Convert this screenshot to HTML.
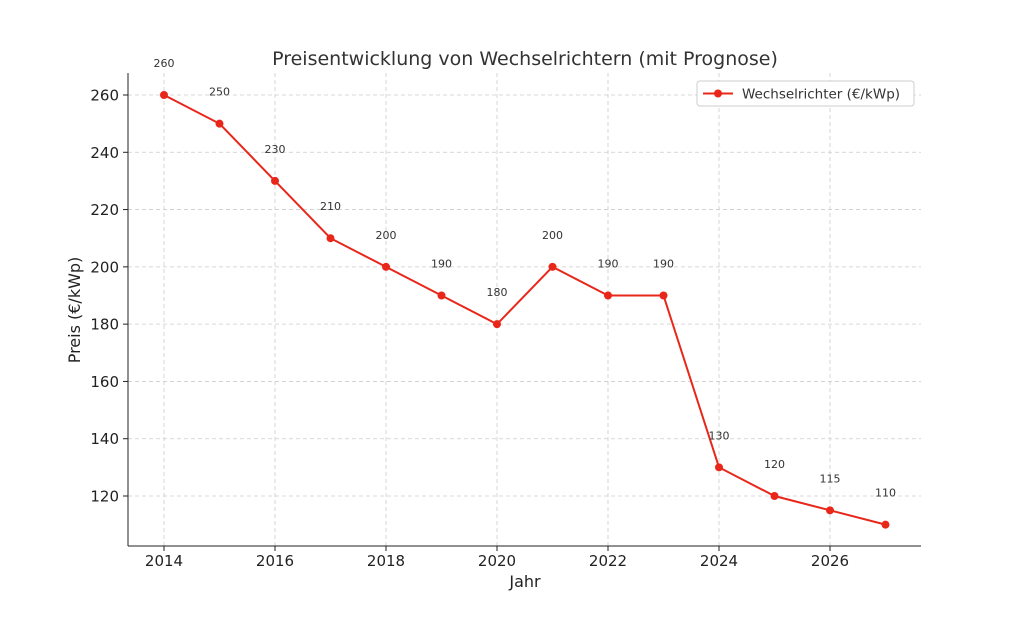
<!DOCTYPE html>
<html><head><meta charset="utf-8"><style>
body{margin:0;background:#fff;}
svg{font-family:"DejaVu Sans","Liberation Sans",sans-serif;}
</style></head><body>
<svg width="1024" height="614" viewBox="0 0 1024 614" id="chart">
<rect width="1024" height="614" fill="#fff"/>
<text x="525" y="65" text-anchor="middle" font-size="19" fill="#333">Preisentwicklung von Wechselrichtern (mit Prognose)</text>
<g id="grid"></g><g id="axes"></g><g id="series"></g>
<text x="525" y="587" text-anchor="middle" font-size="16" fill="#222">Jahr</text>
<text transform="translate(80,310) rotate(-90)" text-anchor="middle" font-size="16" fill="#222">Preis (€/kWp)</text>
<g>
<rect x="697" y="81" width="217" height="25" fill="#fff" stroke="#ccc" rx="3"/>
<line x1="703" y1="93.5" x2="733" y2="93.5" stroke="#e8271a" stroke-width="2"/>
<circle cx="718" cy="93.5" r="4" fill="#e8271a"/>
<text x="742" y="98.5" font-size="13.5" fill="#333">Wechselrichter (€/kWp)</text>
</g>
</svg>
<script>
const years=[2014,2015,2016,2017,2018,2019,2020,2021,2022,2023,2024,2025,2026,2027];
const prices=[260,250,230,210,200,190,180,200,190,190,130,120,115,110];
const xTicks=[2014,2016,2018,2020,2022,2024,2026];
const yTicks=[120,140,160,180,200,220,240,260];
const NS="http://www.w3.org/2000/svg";
const X=v=>164+(v-2014)*55.5;
const Y=v=>95+(260-v)*(401/140);
function mk(t,a,p){const e=document.createElementNS(NS,t);for(const k in a)e.setAttribute(k,a[k]);p.appendChild(e);return e;}
const g=document.getElementById('grid'),ax=document.getElementById('axes'),s=document.getElementById('series');
xTicks.forEach(v=>{
 const l=mk('line',{x1:X(v),x2:X(v),y1:73,y2:546,stroke:'#ccc','stroke-dasharray':'4,3','stroke-width':0.8},g);
 
 
 mk('line',{x1:X(v),x2:X(v),y1:546,y2:551,stroke:'#222'},ax);
 const t=mk('text',{x:X(v),y:566,'text-anchor':'middle','font-size':15,fill:'#222'},ax);t.textContent=v;
 
 
});
yTicks.forEach(v=>{
 const l=mk('line',{x1:128,x2:921,y1:Y(v),y2:Y(v),stroke:'#ccc','stroke-dasharray':'4,3','stroke-width':0.8},g);
 
 
 mk('line',{x1:123,x2:128,y1:Y(v),y2:Y(v),stroke:'#222'},ax);
 const t=mk('text',{x:119,y:Y(v)+5.5,'text-anchor':'end','font-size':15,fill:'#222'},ax);t.textContent=v;
 
 
});
mk('line',{x1:128,x2:128,y1:73,y2:546,stroke:'#222'},ax);
mk('line',{x1:128,x2:921,y1:546,y2:546,stroke:'#222'},ax);
const pl=mk('polyline',{points:years.map((y,i)=>X(y)+','+Y(prices[i])).join(' '),fill:'none',stroke:'#e8271a','stroke-width':2},s);


years.forEach((y,i)=>{
 const c=mk('circle',{cx:X(y),cy:Y(prices[i]),r:4,fill:'#e8271a'},s);
 
 
 const t=mk('text',{x:X(y),y:Y(prices[i])-28,'text-anchor':'middle','font-size':11,fill:'#333'},s);t.textContent=prices[i];
 
 
});
</script>
</body></html>
